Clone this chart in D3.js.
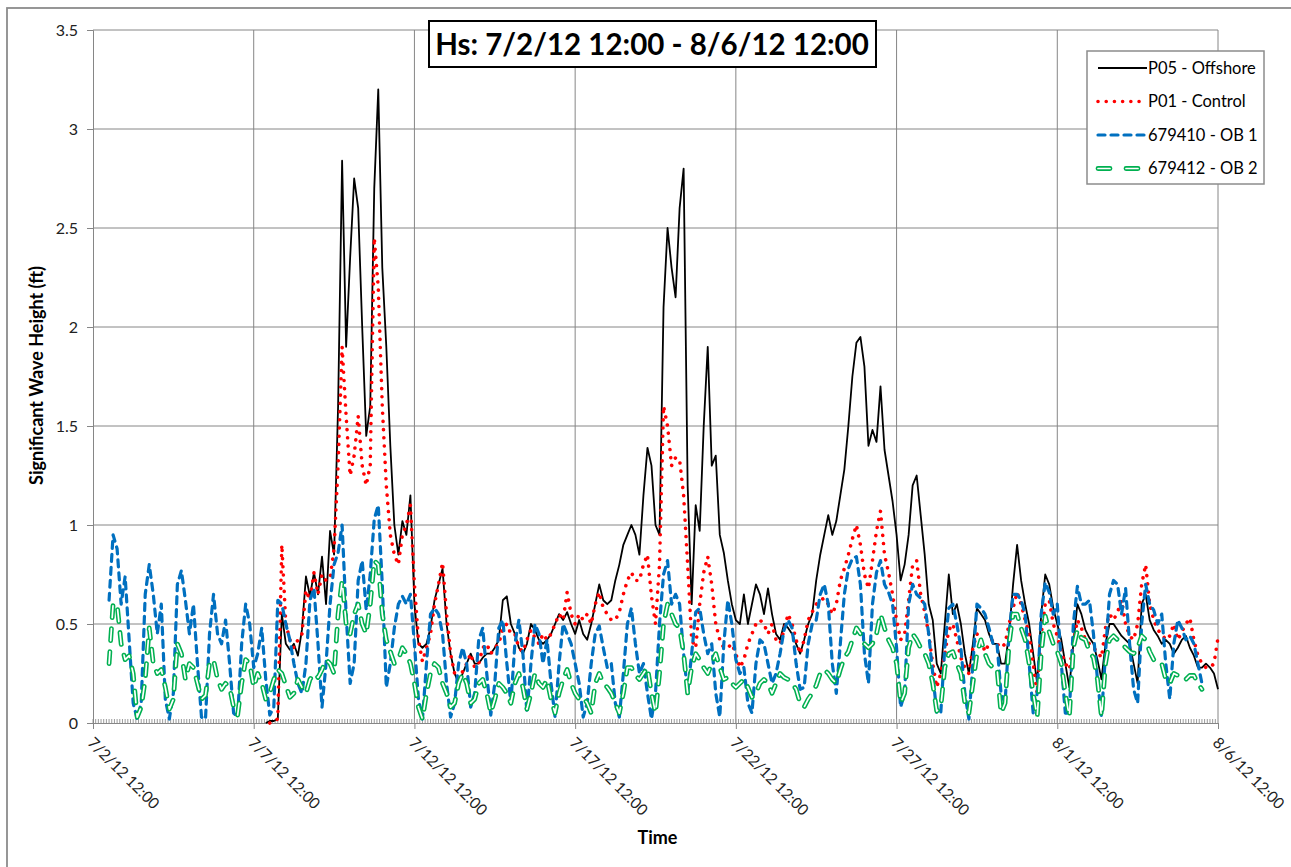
<!DOCTYPE html>
<html>
<head>
<meta charset="utf-8">
<script src="https://cdn.jsdelivr.net/npm/d3@7"></script>
<style>
  body { margin: 0; background: #fff; }
  svg { display: block; font-family: Lato, "Open Sans", sans-serif; }
</style>
</head>
<body>
<div id="chart"></div>
<script>
// readings are 3-hourly
const stepHours = 3;

const seriesNames = ["P05 - Offshore", "P01 - Control", "679410 - OB 1", "679412 - OB 2"];

const p05Start = new Date(2012, 6, 7, 21);
const p05 = [0.0,0.01,0.01,0.02,0.55,0.4,0.37,0.4,0.34,0.47,
  0.74,0.64,0.76,0.65,0.84,0.6,0.97,0.85,1.6,2.84,
  1.9,2.35,2.75,2.6,2.0,1.45,1.6,2.7,3.2,2.3,
  1.9,1.4,1.0,0.85,1.02,0.95,1.15,0.6,0.4,0.38,
  0.4,0.48,0.62,0.7,0.78,0.5,0.35,0.25,0.2,0.25,
  0.3,0.35,0.3,0.3,0.33,0.35,0.35,0.38,0.42,0.62,
  0.64,0.5,0.45,0.38,0.35,0.4,0.5,0.47,0.42,0.4,
  0.42,0.45,0.5,0.55,0.52,0.56,0.5,0.45,0.52,0.45,
  0.42,0.5,0.6,0.7,0.62,0.6,0.62,0.72,0.8,0.9,
  0.95,1.0,0.95,0.85,1.15,1.39,1.3,1.0,0.95,2.1,
  2.5,2.3,2.15,2.6,2.8,1.2,0.6,1.1,0.97,1.5,
  1.9,1.3,1.35,0.95,0.86,0.72,0.6,0.52,0.5,0.65,
  0.5,0.6,0.7,0.65,0.55,0.68,0.55,0.45,0.42,0.5,
  0.48,0.45,0.4,0.35,0.42,0.5,0.55,0.72,0.85,0.95,
  1.05,0.95,1.02,1.15,1.28,1.5,1.75,1.92,1.95,1.8,
  1.4,1.48,1.42,1.7,1.38,1.25,1.12,0.95,0.72,0.8,
  0.95,1.2,1.25,1.05,0.85,0.6,0.52,0.3,0.25,0.5,
  0.75,0.55,0.6,0.5,0.35,0.25,0.4,0.58,0.55,0.52,
  0.45,0.4,0.4,0.3,0.3,0.45,0.7,0.9,0.72,0.6,
  0.5,0.35,0.2,0.55,0.75,0.7,0.58,0.5,0.42,0.3,
  0.18,0.4,0.6,0.55,0.47,0.43,0.4,0.32,0.22,0.4,
  0.5,0.5,0.47,0.44,0.42,0.4,0.3,0.2,0.6,0.65,
  0.52,0.47,0.44,0.4,0.42,0.4,0.35,0.38,0.42,0.44,
  0.38,0.34,0.28,0.28,0.3,0.28,0.25,0.17];

const p01Start = new Date(2012, 6, 8, 0);
const p01 = [0.0,0.01,0.02,0.9,0.5,0.42,0.38,0.42,0.45,
  0.67,0.62,0.76,0.65,0.75,0.72,0.73,0.88,1.3,1.9,
  1.55,1.25,1.35,1.55,1.3,1.2,1.3,2.45,2.2,1.6,
  1.2,0.95,0.85,0.8,0.95,1.0,1.1,0.7,0.42,0.31,
  0.38,0.45,0.6,0.7,0.81,0.55,0.35,0.25,0.22,0.26,
  0.3,0.35,0.28,0.3,0.38,0.4,0.35,0.38,0.4,0.48,
  0.5,0.45,0.45,0.38,0.36,0.42,0.47,0.43,0.4,0.45,
  0.42,0.45,0.5,0.55,0.52,0.66,0.55,0.5,0.55,0.52,
  0.55,0.5,0.6,0.66,0.58,0.55,0.52,0.52,0.56,0.65,
  0.72,0.76,0.72,0.72,0.8,0.85,0.64,0.5,0.8,1.6,
  1.5,1.3,1.34,1.33,1.15,0.8,0.42,0.38,0.6,0.76,
  0.84,0.7,0.5,0.42,0.38,0.38,0.4,0.35,0.28,0.32,
  0.4,0.45,0.5,0.52,0.5,0.45,0.5,0.42,0.4,0.47,
  0.55,0.5,0.42,0.35,0.42,0.52,0.56,0.6,0.62,0.63,
  0.6,0.55,0.6,0.72,0.78,0.85,0.93,1.0,0.9,0.75,
  0.68,0.82,0.97,1.07,0.85,0.76,0.65,0.52,0.42,0.45,
  0.62,0.8,0.82,0.65,0.56,0.45,0.3,0.18,0.25,0.35,
  0.47,0.5,0.42,0.33,0.28,0.25,0.38,0.45,0.42,0.36,
  0.4,0.42,0.4,0.38,0.4,0.5,0.58,0.66,0.6,0.52,
  0.45,0.3,0.15,0.45,0.6,0.62,0.5,0.44,0.36,0.3,
  0.27,0.4,0.52,0.48,0.42,0.4,0.38,0.36,0.33,0.48,
  0.55,0.52,0.56,0.62,0.5,0.44,0.42,0.5,0.7,0.8,
  0.6,0.52,0.47,0.45,0.42,0.44,0.5,0.42,0.46,0.5,
  0.53,0.42,0.34,0.3,0.28,0.28,0.3,0.43];

const ob1Start = new Date(2012, 6, 3, 0);
const ob1 = [0.62,0.95,0.88,0.6,0.74,0.42,0.1,0.02,0.1,
  0.65,0.8,0.65,0.45,0.6,0.12,0.02,0.15,0.7,0.77,
  0.62,0.45,0.6,0.3,0.03,0.02,0.45,0.65,0.45,0.4,
  0.52,0.3,0.05,0.03,0.4,0.6,0.5,0.28,0.35,0.48,
  0.22,0.04,0.08,0.62,0.6,0.5,0.42,0.3,0.2,0.15,
  0.3,0.62,0.68,0.4,0.08,0.3,0.6,0.8,0.86,1.0,
  0.55,0.2,0.3,0.72,0.82,0.57,0.75,1.03,1.1,0.7,
  0.18,0.3,0.48,0.6,0.64,0.6,0.65,0.4,0.12,0.02,
  0.3,0.55,0.58,0.55,0.45,0.2,0.03,0.1,0.3,0.38,
  0.3,0.08,0.15,0.42,0.48,0.25,0.04,0.2,0.48,0.52,
  0.3,0.1,0.4,0.52,0.35,0.05,0.3,0.5,0.45,0.3,
  0.42,0.2,0.03,0.3,0.5,0.45,0.4,0.3,0.2,0.03,
  0.1,0.3,0.45,0.49,0.38,0.28,0.3,0.1,0.03,0.25,
  0.5,0.58,0.4,0.25,0.3,0.15,0.02,0.15,0.5,0.75,
  0.82,0.6,0.65,0.6,0.35,0.15,0.35,0.56,0.58,0.45,
  0.35,0.4,0.15,0.03,0.4,0.62,0.5,0.32,0.25,0.28,
  0.1,0.05,0.3,0.42,0.4,0.3,0.2,0.25,0.35,0.47,
  0.52,0.48,0.3,0.17,0.18,0.4,0.5,0.52,0.65,0.7,
  0.6,0.3,0.15,0.4,0.65,0.78,0.83,0.84,0.7,0.35,
  0.2,0.6,0.76,0.82,0.7,0.66,0.6,0.38,0.08,0.15,
  0.6,0.7,0.65,0.63,0.6,0.45,0.25,0.05,0.05,0.38,
  0.58,0.6,0.5,0.38,0.15,0.02,0.3,0.6,0.58,0.55,
  0.48,0.4,0.4,0.15,0.1,0.45,0.65,0.65,0.62,0.55,
  0.3,0.05,0.15,0.55,0.71,0.66,0.55,0.6,0.3,0.05,
  0.05,0.5,0.69,0.6,0.6,0.62,0.45,0.22,0.03,0.35,
  0.65,0.72,0.7,0.55,0.68,0.4,0.17,0.1,0.5,0.7,
  0.6,0.57,0.5,0.55,0.3,0.12,0.4,0.52,0.48,0.42,
  0.44,0.4,0.3,0.2];

const ob2Start = new Date(2012, 6, 3, 0);
const ob2 = [0.3,0.6,0.6,0.4,0.32,0.34,0.25,0.03,0.08,
  0.22,0.48,0.3,0.25,0.27,0.18,0.07,0.12,0.4,0.35,
  0.22,0.3,0.28,0.2,0.12,0.14,0.3,0.32,0.22,0.17,
  0.2,0.18,0.08,0.04,0.2,0.32,0.3,0.18,0.25,0.2,
  0.12,0.15,0.22,0.27,0.25,0.19,0.13,0.15,0.22,0.18,
  0.15,0.22,0.25,0.23,0.27,0.32,0.3,0.25,0.55,0.72,
  0.5,0.45,0.55,0.6,0.5,0.45,0.6,0.82,0.8,0.55,
  0.42,0.36,0.3,0.32,0.38,0.35,0.3,0.2,0.08,0.02,
  0.15,0.25,0.3,0.28,0.2,0.15,0.08,0.1,0.2,0.25,
  0.2,0.1,0.12,0.2,0.22,0.15,0.05,0.12,0.2,0.18,
  0.15,0.1,0.2,0.25,0.18,0.07,0.15,0.25,0.2,0.18,
  0.22,0.12,0.05,0.15,0.22,0.27,0.2,0.15,0.12,0.13,
  0.1,0.05,0.2,0.25,0.2,0.18,0.15,0.1,0.05,0.15,
  0.28,0.28,0.24,0.22,0.25,0.28,0.15,0.05,0.25,0.5,
  0.6,0.55,0.5,0.48,0.35,0.15,0.28,0.35,0.32,0.28,
  0.25,0.3,0.35,0.28,0.22,0.23,0.2,0.18,0.2,0.22,
  0.18,0.13,0.15,0.2,0.22,0.2,0.15,0.2,0.25,0.23,
  0.22,0.2,0.17,0.1,0.08,0.12,0.15,0.19,0.25,0.27,
  0.25,0.22,0.2,0.27,0.33,0.36,0.42,0.48,0.45,0.4,
  0.38,0.4,0.45,0.55,0.48,0.42,0.38,0.3,0.1,0.15,
  0.38,0.45,0.42,0.38,0.35,0.3,0.2,0.06,0.08,0.28,
  0.35,0.36,0.3,0.25,0.1,0.05,0.2,0.35,0.42,0.35,
  0.3,0.28,0.28,0.05,0.1,0.4,0.55,0.55,0.48,0.42,
  0.3,0.15,0.03,0.35,0.54,0.46,0.4,0.36,0.3,0.15,
  0.03,0.38,0.47,0.43,0.42,0.36,0.33,0.22,0.03,0.3,
  0.42,0.44,0.42,0.4,0.38,0.36,0.35,0.38,0.44,0.42,
  0.36,0.32,0.32,0.3,0.22,0.2,0.25,0.24,0.22,0.22,
  0.24,0.24,0.2,0.17];

const yTicks = [0, 0.5, 1, 1.5, 2, 2.5, 3, 3.5];
const tStart = new Date(2012, 6, 2, 12);
const tEnd = new Date(2012, 7, 6, 12);
const xTicks = d3.range(0, 8).map(k => d3.timeDay.offset(tStart, k * 5));

const W = 1291, H = 867;
const margin = {top: 30, right: 73, bottom: 144, left: 93};
const width = W - margin.left - margin.right;
const height = H - margin.top - margin.bottom;
const gridColor = "#868686";

const svg = d3.select("#chart").append("svg")
    .attr("width", W)
    .attr("height", H);

// outer chart frame (runs off the page right and bottom)
svg.append("rect")
    .attr("x", 7).attr("y", 8)
    .attr("width", W + 20).attr("height", H + 20)
    .attr("fill", "#fff")
    .attr("stroke", "#8c8c8c")
    .attr("stroke-width", 1.8);

const g = svg.append("g")
    .attr("transform", `translate(${margin.left},${margin.top})`);

const x = d3.scaleTime().domain([tStart, tEnd]).range([0, width]);
const y = d3.scaleLinear().domain([0, 3.5]).range([height, 0]);

// gridlines
g.append("g").selectAll("line")
    .data(yTicks.slice(1))
    .enter().append("line")
    .attr("x1", 0).attr("x2", width)
    .attr("y1", d => y(d)).attr("y2", d => y(d))
    .attr("stroke", gridColor).attr("stroke-width", 1);

g.append("g").selectAll("line")
    .data(xTicks.slice(1))
    .enter().append("line")
    .attr("x1", d => x(d)).attr("x2", d => x(d))
    .attr("y1", 0).attr("y2", height)
    .attr("stroke", gridColor).attr("stroke-width", 1);

// minor ticks every 2 hours along the time axis
g.append("g").selectAll("line")
    .data(d3.timeHour.every(2).range(tStart, tEnd))
    .enter().append("line")
    .attr("x1", d => x(d)).attr("x2", d => x(d))
    .attr("y1", height - 4).attr("y2", height)
    .attr("stroke", "#9a9a9a").attr("stroke-width", 1);

// axes
const yAxis = g.append("g")
    .call(d3.axisLeft(y).tickValues(yTicks).tickSize(6).tickPadding(9).tickFormat(d => String(d)));
yAxis.attr("font-family", null).attr("font-size", 16);
yAxis.select(".domain").attr("stroke", gridColor);
yAxis.selectAll(".tick line").attr("stroke", gridColor);
yAxis.selectAll(".tick text").attr("fill", "#222");

const xAxis = g.append("g")
    .attr("transform", `translate(0,${height})`)
    .call(d3.axisBottom(x).tickValues(xTicks).tickSize(6).tickFormat(d3.timeFormat("%-m/%-d/%y %H:%M")));
xAxis.attr("font-family", null).attr("font-size", 15.5);
xAxis.select(".domain").attr("stroke", gridColor);
xAxis.selectAll(".tick text")
    .attr("y", 0)
    .attr("dy", "0.35em")
    .attr("transform", "translate(-3,17) rotate(45)")
    .style("text-anchor", "start")
    .attr("fill", "#222");
xAxis.selectAll(".tick line").attr("stroke", gridColor);

// axis titles
svg.append("text")
    .attr("transform", `translate(43,${margin.top + height / 2 - 1}) rotate(-90)`)
    .attr("text-anchor", "middle")
    .attr("font-weight", "bold")
    .attr("font-size", 18)
    .text("Significant Wave Height (ft)");

svg.append("text")
    .attr("x", margin.left + width / 2 + 2)
    .attr("y", 844)
    .attr("text-anchor", "middle")
    .attr("font-weight", "bold")
    .attr("font-size", 18)
    .text("Time");

// series
const series = [
  {name: seriesNames[0], start: p05Start, values: p05},
  {name: seriesNames[1], start: p01Start, values: p01},
  {name: seriesNames[2], start: ob1Start, values: ob1},
  {name: seriesNames[3], start: ob2Start, values: ob2}
];

const line = d3.line()
    .x(d => x(d.t))
    .y(d => y(d.v));

const pts = s => s.values.map((v, i) => ({t: d3.timeHour.offset(s.start, i * stepHours), v: v}));

// each series can need more than one stroke (OB 2 is a hollow dash)
const styles = [
  [{stroke: "#000", width: 1.8}],
  [{stroke: "#ff0000", width: 3.6, dash: "0.01 8.2", cap: "round"}],
  [{stroke: "#0070c0", width: 3.2, dash: "7 6", cap: "round"}],
  [{stroke: "#00b050", width: 4.8, dash: "12 11", cap: "round"},
   {stroke: "#fff", width: 1.7, dash: "12 11", cap: "round"}]
];
const legendDash = [null, null, null, "12 16"];

series.forEach((s, k) => {
  const d = line(pts(s));
  styles[k].forEach(st => {
    g.append("path")
      .attr("d", d)
      .attr("fill", "none")
      .attr("stroke", st.stroke)
      .attr("stroke-width", st.width)
      .attr("stroke-dasharray", st.dash || null)
      .attr("stroke-linecap", st.cap || "butt")
      .attr("stroke-linejoin", "round");
  });
});

// title
const titleG = svg.append("g");
titleG.append("rect")
    .attr("x", 429).attr("y", 21)
    .attr("width", 447).attr("height", 46)
    .attr("fill", "#fff")
    .attr("stroke", "#000")
    .attr("stroke-width", 2);
titleG.append("text")
    .attr("x", 652).attr("y", 55)
    .attr("text-anchor", "middle")
    .attr("font-weight", "bold")
    .attr("font-size", 29.5)
    .text("Hs: 7/2/12 12:00 - 8/6/12 12:00");

// legend
const legend = svg.append("g").attr("transform", "translate(1087,51)");
legend.append("rect")
    .attr("width", 177).attr("height", 133)
    .attr("fill", "#fff")
    .attr("stroke", "#8c8c8c")
    .attr("stroke-width", 1.5);

series.forEach((s, k) => {
  const ly = 17 + k * 33.5;
  styles[k].forEach(st => {
    legend.append("line")
      .attr("x1", 11).attr("x2", st.cap === "round" ? 57 : 60)
      .attr("y1", ly).attr("y2", ly)
      .attr("stroke", st.stroke)
      .attr("stroke-width", st.width)
      .attr("stroke-dasharray", legendDash[k] || st.dash || null)
      .attr("stroke-linecap", st.cap || "butt");
  });
  legend.append("text")
    .attr("x", 61).attr("y", ly)
    .attr("dy", "0.35em")
    .attr("font-size", 16.5)
    .text(s.name);
});
</script>
</body>
</html>
